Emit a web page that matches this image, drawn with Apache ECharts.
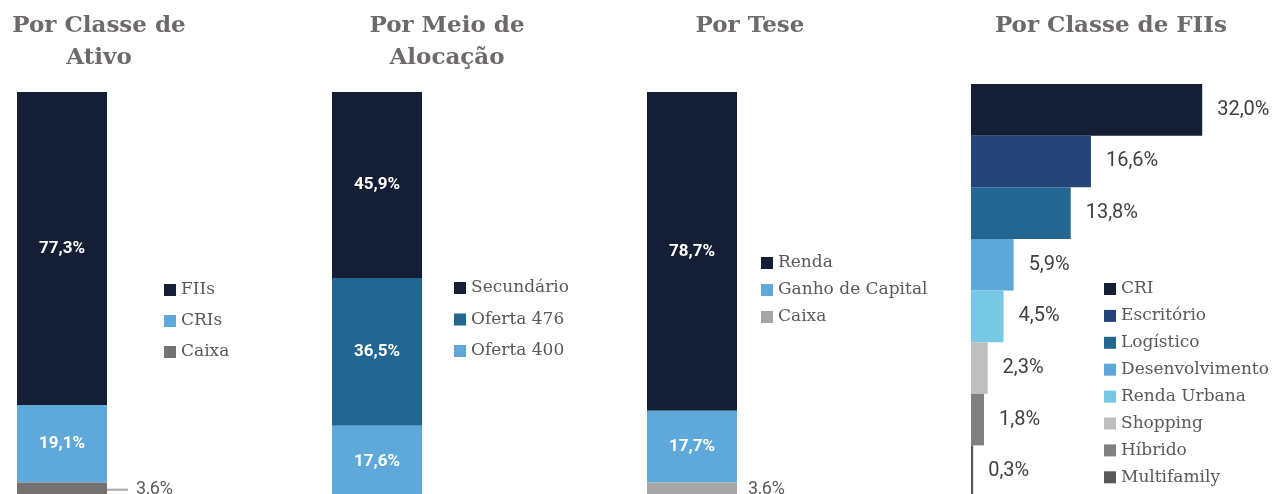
<!DOCTYPE html>
<html>
<head>
<meta charset="utf-8">
<script src="https://cdn.jsdelivr.net/npm/echarts@6/dist/echarts.min.js"></script>
<style>
  html, body { margin: 0; padding: 0; overflow: hidden; background: #fff; }
  .panel { position: absolute; top: 0; height: 500px; }
</style>
</head>
<body>
<div id="p1" class="panel" style="left:0;width:320px"></div>
<div id="p2" class="panel" style="left:320px;width:300px"></div>
<div id="p3" class="panel" style="left:620px;width:330px"></div>
<div id="p4" class="panel" style="left:950px;width:324px"></div>
<script>
// data
const assetClasses = ["FIIs", "CRIs", "Caixa"];
const assetValues = [77.3, 19.1, 3.6];

const allocationTypes = ["Secundário", "Oferta 476", "Oferta 400"];
const allocationValues = [45.9, 36.5, 17.6];

const theses = ["Renda", "Ganho de Capital", "Caixa"];
const thesisValues = [78.7, 17.7, 3.6];

const fiiClasses = ["CRI", "Escritório", "Logístico", "Desenvolvimento",
  "Renda Urbana", "Shopping", "Híbrido", "Multifamily"];
const fiiValues = [32.0, 16.6, 13.8, 5.9, 4.5, 2.3, 1.8, 0.3];

// styles
const NAVY = "#141e35";
const SERIF = "'DejaVu Serif', serif";

const fmt = (v) => v.toFixed(1).replace(".", ",") + "%";

function title(text, x) {
  return {
    text: text,
    left: x,
    top: 5,
    textAlign: "center",
    textStyle: {
      fontFamily: SERIF,
      fontWeight: "bold",
      fontSize: 23,
      lineHeight: 32,
      color: "#6f6a6a",
    },
  };
}

function legend(names, x, top, gap) {
  return {
    orient: "vertical",
    left: x,
    top: top,
    padding: 0,
    itemGap: gap,
    itemWidth: 12,
    itemHeight: 12,
    icon: "rect",
    data: names,
    textStyle: {
      fontFamily: SERIF,
      fontSize: 17,
      lineHeight: 20,
      color: "#595959",
    },
  };
}

const insideLabel = {
  show: true,
  position: "inside",
  formatter: (p) => fmt(p.value),
  color: "#fff",
  fontFamily: "Roboto",
  fontWeight: "bold",
  fontSize: 17,
};

// vertical stacked 100% bar
function stackedPanel(el, opts) {
  const chart = echarts.init(document.getElementById(el));
  const series = opts.names.map((name, i) => {
    let label = insideLabel;
    if (i === opts.outsideIndex) {
      label = {
        show: true,
        position: "right",
        distance: opts.outsideDistance,
        formatter: opts.leader ? (p) => "{l|}{v|" + fmt(p.value) + "}" : (p) => fmt(p.value),
        color: "#595959",
        fontFamily: "Roboto",
        fontSize: 18,
        rich: {
          l: { width: 21, height: 2, backgroundColor: "#a6a6a6" },
          v: { color: "#595959", fontFamily: "Roboto", fontSize: 18, padding: [0, 0, 0, 8] },
        },
      };
    }
    return {
      name: name,
      type: "bar",
      stack: "total",
      barCategoryGap: 0,
      data: [opts.values[i]],
      itemStyle: { color: opts.colors[i] },
      label: label,
      emphasis: { disabled: true },
    };
  });
  chart.setOption({
    animation: false,
    title: title(opts.title, opts.titleX),
    legend: legend(opts.names, opts.legendX, opts.legendTop, opts.legendGap),
    grid: { left: opts.gridLeft, top: 92, width: 90, height: 405 },
    xAxis: { type: "category", data: [""], show: false },
    yAxis: { type: "value", min: 0, max: 100, inverse: true, show: false },
    series: series,
  });
}

stackedPanel("p1", {
  title: "Por Classe de\nAtivo",
  titleX: 94,
  names: assetClasses,
  values: assetValues,
  colors: [NAVY, "#5fa8da", "#767171"],
  gridLeft: 17,
  legendX: 164,
  legendTop: 280,
  legendGap: 11,
  outsideIndex: 2,
  outsideDistance: 0,
  leader: true,
});

stackedPanel("p2", {
  title: "Por Meio de\nAlocação",
  titleX: 122,
  names: allocationTypes,
  values: allocationValues,
  colors: [NAVY, "#226691", "#5fa8da"],
  gridLeft: 12,
  legendX: 134,
  legendTop: 278,
  legendGap: 11.5,
  outsideIndex: -1,
});

stackedPanel("p3", {
  title: "Por Tese",
  titleX: 125,
  names: theses,
  values: thesisValues,
  colors: [NAVY, "#5fa8da", "#a6a6a6"],
  gridLeft: 27,
  legendX: 141,
  legendTop: 253,
  legendGap: 7,
  outsideIndex: 2,
  outsideDistance: 11,
  leader: false,
});

// horizontal bars by FII class
const fiiColors = [NAVY, "#264478", "#226691", "#5da7da", "#76c8e4", "#bfbfbf", "#808080", "#595959"];
const c4 = echarts.init(document.getElementById("p4"));
c4.setOption({
  animation: false,
  title: title("Por Classe de FIIs", 156),
  legend: legend(fiiClasses, 154, 279, 6.9),
  grid: { left: 21, top: 84, width: 289, height: 413 },
  xAxis: { type: "value", min: 0, max: 40, show: false },
  yAxis: { type: "category", data: fiiClasses, inverse: true, show: false },
  series: fiiClasses.map((name, i) => ({
    name: name,
    type: "bar",
    stack: "fii",
    barCategoryGap: 0,
    data: fiiValues.map((v, j) => (j === i ? v : "-")),
    itemStyle: { color: fiiColors[i] },
    label: {
      show: true,
      position: "right",
      distance: 15,
      formatter: (p) => fmt(p.value),
      color: "#404040",
      fontFamily: "Roboto",
      fontSize: 20,
    },
    emphasis: { disabled: true },
  })),
});
</script>
</body>
</html>
